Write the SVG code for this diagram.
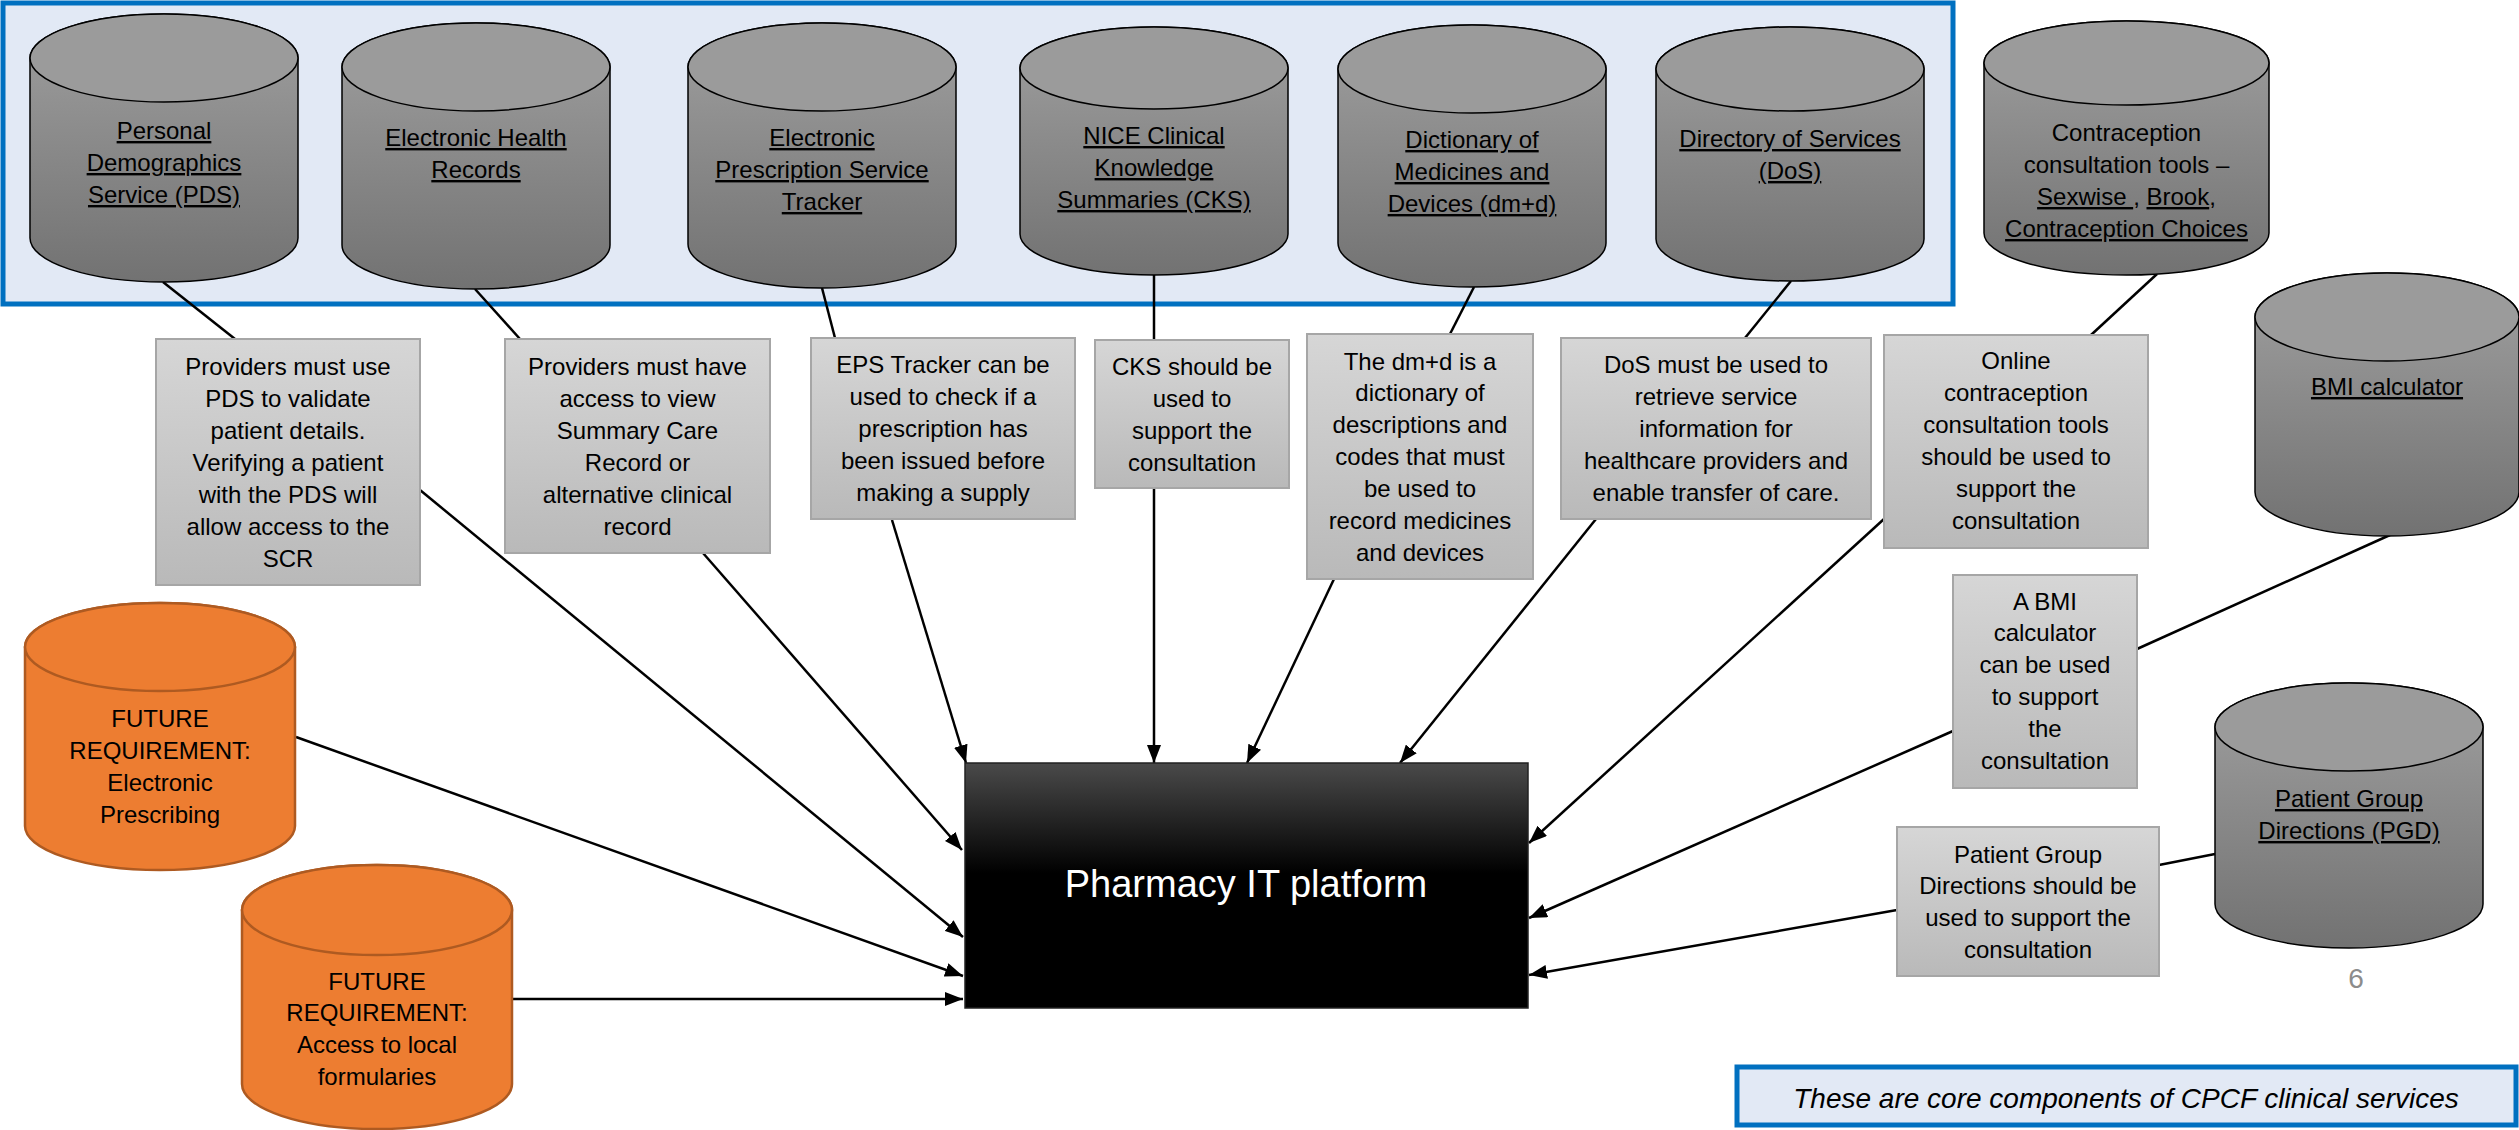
<svg xmlns="http://www.w3.org/2000/svg" width="2519" height="1130" viewBox="0 0 2519 1130">
<style>
text{font-family:"Liberation Sans",Arial,sans-serif;font-size:24px;fill:#000;text-anchor:middle}
.u{text-decoration:underline}
.cyl{fill:url(#gcyl);stroke:#000;stroke-width:1.5}
.cyltop{fill:#9b9b9b;stroke:#000;stroke-width:1.5}
.ocyl{fill:#ED7D31;stroke:#AE5A21;stroke-width:2.5}
.note{fill:url(#gnote);stroke:#a6a6a6;stroke-width:2}
.ln{stroke:#000;stroke-width:2.5;fill:none}
.ar{stroke:#000;stroke-width:2.5;fill:none;marker-end:url(#ah)}
.plat{font-size:38px;fill:#fff}
.cap{font-size:28px;font-style:italic}
.pg{font-size:28px;fill:#8c8c8c}
</style>
<defs>
<linearGradient id="gcyl" x1="0" y1="0" x2="0" y2="1"><stop offset="0" stop-color="#a0a0a0"/><stop offset="1" stop-color="#727272"/></linearGradient>
<linearGradient id="gnote" x1="0" y1="0" x2="0" y2="1"><stop offset="0" stop-color="#d6d6d6"/><stop offset="1" stop-color="#b9b9b9"/></linearGradient>
<linearGradient id="gplat" x1="0" y1="0" x2="0" y2="1"><stop offset="0" stop-color="#4a4a4a"/><stop offset="0.45" stop-color="#000"/><stop offset="1" stop-color="#000"/></linearGradient>
<marker id="ah" viewBox="0 0 18 14" refX="18" refY="7" markerWidth="18" markerHeight="14" markerUnits="userSpaceOnUse" orient="auto"><path d="M0,0 L18,7 L0,14 Z" fill="#000"/></marker>
</defs>
<rect x="0" y="0" width="2519" height="1130" fill="#fff"/>
<g id="core-group">
<rect x="3" y="3" width="1950" height="301" fill="#e2e9f5" stroke="#0070C0" stroke-width="5"/>
</g>
<g id="connectors">
<line class="ln" x1="163" y1="282" x2="235" y2="339"/>
<line class="ln" x1="475" y1="289" x2="520" y2="339"/>
<line class="ln" x1="822" y1="288" x2="835" y2="338"/>
<line class="ln" x1="1154" y1="275" x2="1154" y2="340"/>
<line class="ln" x1="1474" y1="287" x2="1450" y2="334"/>
<line class="ln" x1="1791" y1="281" x2="1745" y2="338"/>
<line class="ln" x1="2157" y1="274" x2="2091" y2="335"/>
<line class="ln" x1="2390" y1="535" x2="2137" y2="649"/>
<line class="ln" x1="2215" y1="854" x2="2159" y2="865"/>
<line class="ar" x1="420" y1="490" x2="963" y2="937"/>
<line class="ar" x1="703" y1="553" x2="962" y2="850"/>
<line class="ar" x1="892" y1="520" x2="966" y2="763"/>
<line class="ar" x1="1154" y1="488" x2="1154" y2="763"/>
<line class="ar" x1="1334" y1="579" x2="1247" y2="763"/>
<line class="ar" x1="1596" y1="519" x2="1400" y2="763"/>
<line class="ar" x1="1884" y1="519" x2="1529" y2="843"/>
<line class="ar" x1="1953" y1="731" x2="1529" y2="918"/>
<line class="ar" x1="1897" y1="910" x2="1529" y2="975"/>
<line class="ar" x1="296" y1="737" x2="963" y2="976"/>
<line class="ar" x1="512" y1="999" x2="963" y2="999"/>
</g>
<g id="pds">
<path class="cyl" d="M30,58 A134,44 0 0 1 298,58 L298,238 A134,44 0 0 1 30,238 Z"/>
<ellipse class="cyltop" cx="164" cy="58" rx="134" ry="44"/>
<text class="u" x="164" y="139">Personal</text>
<text class="u" x="164" y="171">Demographics</text>
<text class="u" x="164" y="203">Service (PDS)</text>
</g>
<g id="ehr">
<path class="cyl" d="M342,67 A134,44 0 0 1 610,67 L610,245 A134,44 0 0 1 342,245 Z"/>
<ellipse class="cyltop" cx="476" cy="67" rx="134" ry="44"/>
<text class="u" x="476" y="146">Electronic Health</text>
<text class="u" x="476" y="178">Records</text>
</g>
<g id="eps">
<path class="cyl" d="M688,67 A134,44 0 0 1 956,67 L956,244 A134,44 0 0 1 688,244 Z"/>
<ellipse class="cyltop" cx="822" cy="67" rx="134" ry="44"/>
<text class="u" x="822" y="146">Electronic</text>
<text class="u" x="822" y="178">Prescription Service</text>
<text class="u" x="822" y="210">Tracker</text>
</g>
<g id="cks">
<path class="cyl" d="M1020,68 A134,41 0 0 1 1288,68 L1288,234 A134,41 0 0 1 1020,234 Z"/>
<ellipse class="cyltop" cx="1154" cy="68" rx="134" ry="41"/>
<text class="u" x="1154" y="144">NICE Clinical</text>
<text class="u" x="1154" y="176">Knowledge</text>
<text class="u" x="1154" y="208">Summaries (CKS)</text>
</g>
<g id="dmd">
<path class="cyl" d="M1338,69 A134,44 0 0 1 1606,69 L1606,243 A134,44 0 0 1 1338,243 Z"/>
<ellipse class="cyltop" cx="1472" cy="69" rx="134" ry="44"/>
<text class="u" x="1472" y="148">Dictionary of</text>
<text class="u" x="1472" y="180">Medicines and</text>
<text class="u" x="1472" y="212">Devices (dm+d)</text>
</g>
<g id="dos">
<path class="cyl" d="M1656,69 A134,42 0 0 1 1924,69 L1924,239 A134,42 0 0 1 1656,239 Z"/>
<ellipse class="cyltop" cx="1790" cy="69" rx="134" ry="42"/>
<text class="u" x="1790" y="147">Directory of Services</text>
<text class="u" x="1790" y="179">(DoS)</text>
</g>
<g id="contraception">
<path class="cyl" d="M1984,63 A142.5,42 0 0 1 2269,63 L2269,233 A142.5,42 0 0 1 1984,233 Z"/>
<ellipse class="cyltop" cx="2126.5" cy="63" rx="142.5" ry="42"/>
<text x="2126.5" y="141">Contraception</text>
<text x="2126.5" y="173">consultation tools –</text>
<text x="2126.5" y="205"><tspan class="u">Sexwise </tspan>, <tspan class="u">Brook</tspan>,</text>
<text class="u" x="2126.5" y="237">Contraception Choices</text>
</g>
<g id="bmi">
<path class="cyl" d="M2255,317 A132,44 0 0 1 2519,317 L2519,492 A132,44 0 0 1 2255,492 Z"/>
<ellipse class="cyltop" cx="2387" cy="317" rx="132" ry="44"/>
<text class="u" x="2387" y="395">BMI calculator</text>
</g>
<g id="pgd">
<path class="cyl" d="M2215,727 A134,44 0 0 1 2483,727 L2483,904 A134,44 0 0 1 2215,904 Z"/>
<ellipse class="cyltop" cx="2349" cy="727" rx="134" ry="44"/>
<text class="u" x="2349" y="807">Patient Group</text>
<text class="u" x="2349" y="839">Directions (PGD)</text>
</g>
<g id="future-ep">
<path class="ocyl" d="M25,647 A135,44 0 0 1 295,647 L295,826 A135,44 0 0 1 25,826 Z"/>
<ellipse class="ocyl" cx="160" cy="647" rx="135" ry="44"/>
<text x="160" y="727">FUTURE</text>
<text x="160" y="759">REQUIREMENT:</text>
<text x="160" y="791">Electronic</text>
<text x="160" y="823">Prescribing</text>
</g>
<g id="future-formularies">
<path class="ocyl" d="M242,910 A135,45 0 0 1 512,910 L512,1084 A135,45 0 0 1 242,1084 Z"/>
<ellipse class="ocyl" cx="377" cy="910" rx="135" ry="45"/>
<text x="377" y="990">FUTURE</text>
<text x="377" y="1021">REQUIREMENT:</text>
<text x="377" y="1053">Access to local</text>
<text x="377" y="1085">formularies</text>
</g>
<g id="note-pds">
<rect class="note" x="156" y="339" width="264" height="246"/>
<text x="288" y="375">Providers must use</text>
<text x="288" y="407">PDS to validate</text>
<text x="288" y="439">patient details.</text>
<text x="288" y="471">Verifying a patient</text>
<text x="288" y="503">with the PDS will</text>
<text x="288" y="535">allow access to the</text>
<text x="288" y="567">SCR</text>
</g>
<g id="note-ehr">
<rect class="note" x="505" y="339" width="265" height="214"/>
<text x="637.5" y="375">Providers must have</text>
<text x="637.5" y="407">access to view</text>
<text x="637.5" y="439">Summary Care</text>
<text x="637.5" y="471">Record or</text>
<text x="637.5" y="503">alternative clinical</text>
<text x="637.5" y="535">record</text>
</g>
<g id="note-eps">
<rect class="note" x="811" y="338" width="264" height="181"/>
<text x="943" y="373">EPS Tracker can be</text>
<text x="943" y="405">used to check if a</text>
<text x="943" y="437">prescription has</text>
<text x="943" y="469">been issued before</text>
<text x="943" y="501">making a supply</text>
</g>
<g id="note-cks">
<rect class="note" x="1095" y="340" width="194" height="148"/>
<text x="1192" y="375">CKS should be</text>
<text x="1192" y="407">used to</text>
<text x="1192" y="439">support the</text>
<text x="1192" y="471">consultation</text>
</g>
<g id="note-dmd">
<rect class="note" x="1307" y="334" width="226" height="245"/>
<text x="1420" y="370">The dm+d is a</text>
<text x="1420" y="401">dictionary of</text>
<text x="1420" y="433">descriptions and</text>
<text x="1420" y="465">codes that must</text>
<text x="1420" y="497">be used to</text>
<text x="1420" y="529">record medicines</text>
<text x="1420" y="561">and devices</text>
</g>
<g id="note-dos">
<rect class="note" x="1561" y="338" width="310" height="181"/>
<text x="1716" y="373">DoS must be used to</text>
<text x="1716" y="405">retrieve service</text>
<text x="1716" y="437">information for</text>
<text x="1716" y="469">healthcare providers and</text>
<text x="1716" y="501">enable transfer of care.</text>
</g>
<g id="note-contraception">
<rect class="note" x="1884" y="335" width="264" height="213"/>
<text x="2016" y="369">Online</text>
<text x="2016" y="401">contraception</text>
<text x="2016" y="433">consultation tools</text>
<text x="2016" y="465">should be used to</text>
<text x="2016" y="497">support the</text>
<text x="2016" y="529">consultation</text>
</g>
<g id="note-bmi">
<rect class="note" x="1953" y="575" width="184" height="213"/>
<text x="2045" y="610">A BMI</text>
<text x="2045" y="641">calculator</text>
<text x="2045" y="673">can be used</text>
<text x="2045" y="705">to support</text>
<text x="2045" y="737">the</text>
<text x="2045" y="769">consultation</text>
</g>
<g id="note-pgd">
<rect class="note" x="1897" y="827" width="262" height="149"/>
<text x="2028" y="863">Patient Group</text>
<text x="2028" y="894">Directions should be</text>
<text x="2028" y="926">used to support the</text>
<text x="2028" y="958">consultation</text>
</g>
<g id="platform">
<rect x="965" y="763" width="563" height="245" fill="url(#gplat)" stroke="#222" stroke-width="1.5"/>
<text class="plat" x="1246" y="897">Pharmacy IT platform</text>
</g>
<g id="page-number">
<text class="pg" x="2356" y="988">6</text>
</g>
<g id="caption">
<rect x="1737" y="1067" width="779" height="58" fill="#e2e9f5" stroke="#0070C0" stroke-width="5"/>
<text class="cap" x="2126" y="1108">These are core components of CPCF clinical services</text>
</g>
</svg>
